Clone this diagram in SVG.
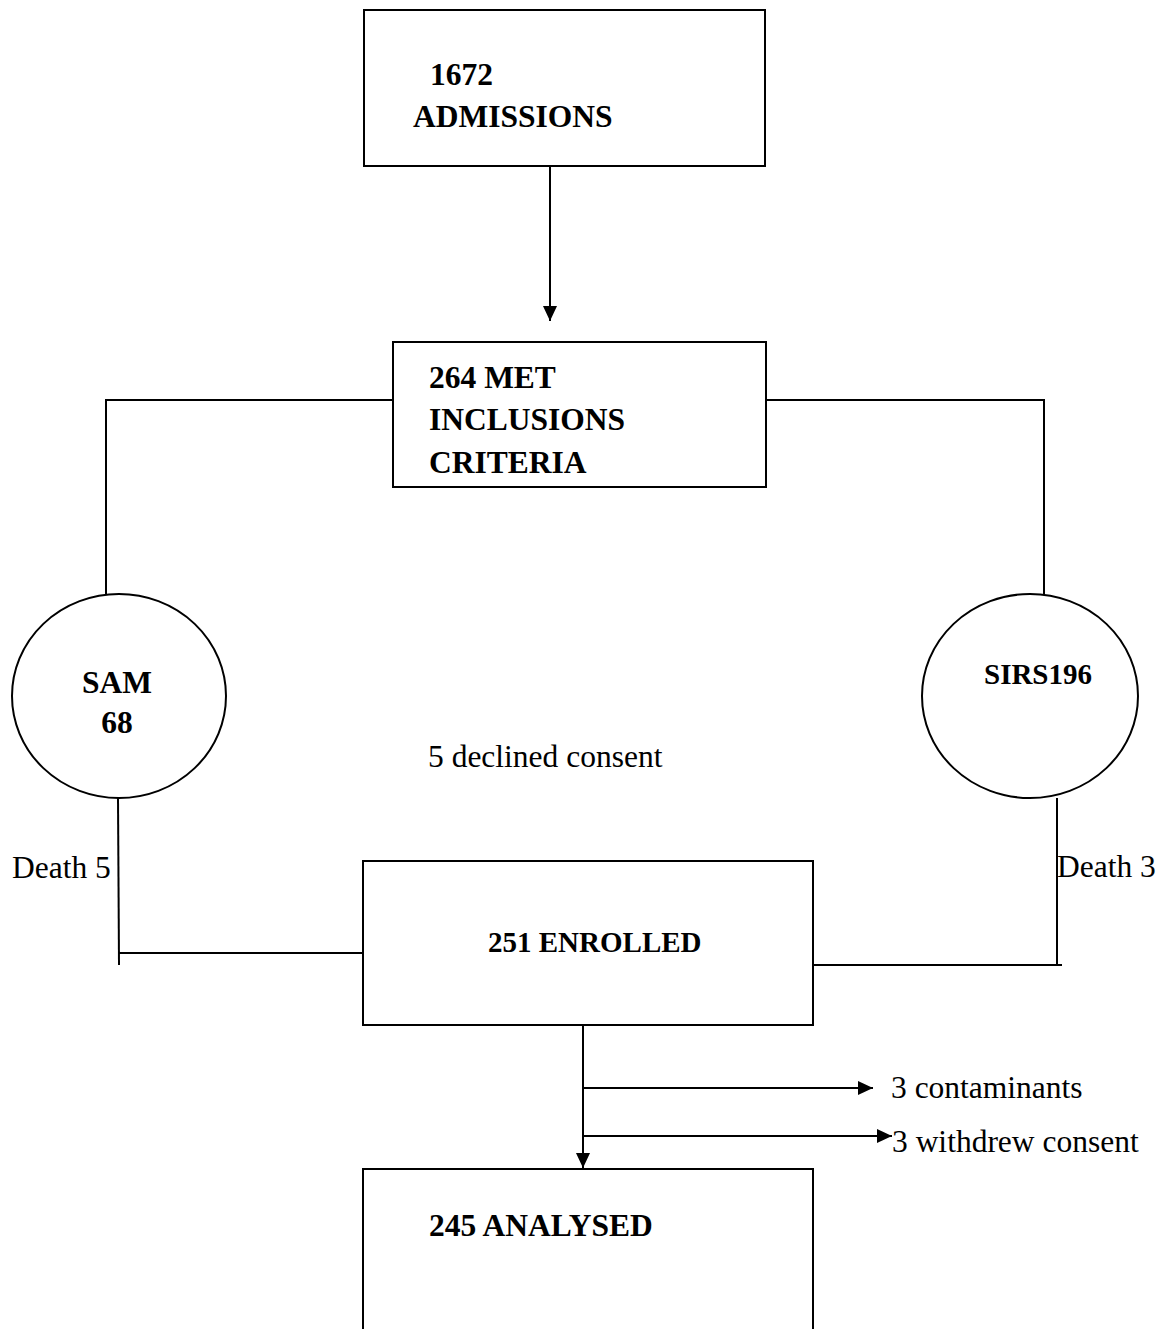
<svg xmlns="http://www.w3.org/2000/svg" width="1162" height="1329" viewBox="0 0 1162 1329">
<style>
.box{fill:#fff;stroke:#000;stroke-width:2}
.ln{fill:none;stroke:#000;stroke-width:2}
.b{font-family:"Liberation Serif","Times New Roman",serif;font-weight:bold;font-size:31.5px;fill:#000}
.r{font-family:"Liberation Serif","Times New Roman",serif;font-size:31.5px;fill:#000}
</style>
<defs>
<marker id="ah" markerWidth="8" markerHeight="8" refX="8" refY="4" orient="auto" markerUnits="userSpaceOnUse" viewBox="0 0 8 8">
<path d="M0,0 L8,4 L0,8 Z" fill="#000"/>
</marker>
<marker id="ahd" markerWidth="15" markerHeight="14" refX="15" refY="7" orient="auto" markerUnits="userSpaceOnUse" viewBox="0 0 15 14">
<path d="M0,0 L15,7 L0,14 Z" fill="#000"/>
</marker>
</defs>
<rect width="1162" height="1329" fill="#fff"/>
<g id="connectors">
<line class="ln" x1="550" y1="167" x2="550" y2="321" marker-end="url(#ahd)"/>
<polyline class="ln" points="393,400 106,400 106,595"/>
<polyline class="ln" points="766,400 1044,400 1044,595"/>
<polyline class="ln" points="118,798 119,965"/>
<line class="ln" x1="118" y1="953" x2="363" y2="953"/>
<polyline class="ln" points="1057,798 1057,965"/>
<line class="ln" x1="813" y1="965" x2="1062" y2="965"/>
<line class="ln" x1="583" y1="1025" x2="583" y2="1168" marker-end="url(#ahd)"/>
<line class="ln" x1="583" y1="1088" x2="873" y2="1088" marker-end="url(#ahd)"/>
<line class="ln" x1="583" y1="1136" x2="892" y2="1136" marker-end="url(#ahd)"/>
</g>
<g id="admissions">
<rect class="box" x="364" y="10" width="401" height="156"/>
<text class="b" x="430" y="85">1672</text>
<text class="b" x="413" y="127">ADMISSIONS</text>
</g>
<g id="met">
<rect class="box" x="393" y="342" width="373" height="145"/>
<text class="b" x="429" y="388">264 MET</text>
<text class="b" x="429" y="430">INCLUSIONS</text>
<text class="b" x="429" y="473">CRITERIA</text>
</g>
<g id="sam">
<ellipse class="box" cx="119" cy="696" rx="107" ry="102"/>
<text class="b" x="117" y="693" text-anchor="middle" font-size="28">SAM</text>
<text class="b" x="117" y="733" text-anchor="middle" font-size="28">68</text>
</g>
<g id="sirs">
<ellipse class="box" cx="1030" cy="696" rx="108" ry="102"/>
<text class="b" x="1038" y="684" text-anchor="middle" style="font-size:29px">SIRS196</text>
</g>
<g id="declined">
<text class="r" x="428" y="767">5 declined consent</text>
</g>
<g id="death5">
<text class="r" x="12" y="878">Death 5</text>
</g>
<g id="death3">
<text class="r" x="1057" y="877">Death 3</text>
</g>
<g id="enrolled">
<rect class="box" x="363" y="861" width="450" height="164"/>
<text class="b" x="488" y="952" style="font-size:29px">251 ENROLLED</text>
</g>
<g id="contaminants">
<text class="r" x="891" y="1098">3 contaminants</text>
</g>
<g id="withdrew">
<text class="r" x="892" y="1152">3 withdrew consent</text>
</g>
<g id="analysed">
<path class="ln" d="M363,1340 L363,1169 L813,1169 L813,1340"/>
<text class="b" x="429" y="1236">245 ANALYSED</text>
</g>
</svg>
